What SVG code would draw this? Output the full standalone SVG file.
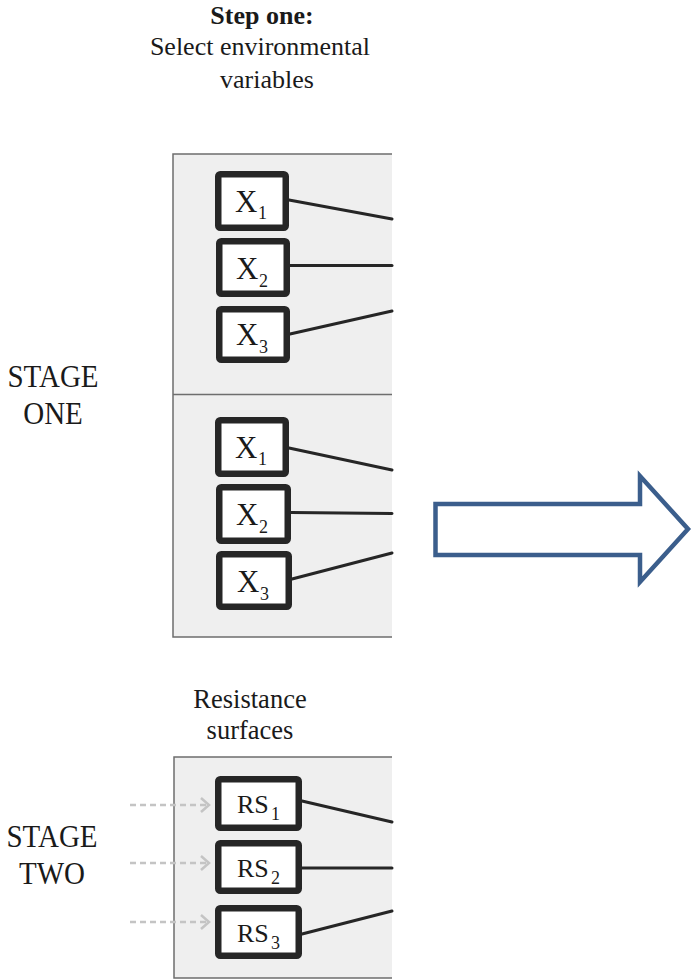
<svg xmlns="http://www.w3.org/2000/svg" width="692" height="980" viewBox="0 0 692 980">
  <style>
    text { font-family: 'Liberation Serif', 'Times New Roman', serif; fill: #1a1a1a; }
    .panel { fill: #efefef; }
    .edge { fill: none; stroke: #6e6e6e; stroke-width: 1.5; }
    .node rect { fill: #ffffff; stroke: #262626; stroke-width: 6.5; }
    .node .v { font-size: 31px; }
    .node .r { font-size: 26px; }
    .node .s { font-size: 18px; }
    .link { fill: none; stroke: #262626; stroke-width: 3; stroke-linecap: round; }
    .feed { fill: none; stroke: #c4c4c4; stroke-width: 2.5; stroke-dasharray: 6 4; }
    .chev { fill: none; stroke: #c4c4c4; stroke-width: 2.5; }
    .big { fill: #ffffff; stroke: #3b5e8c; stroke-width: 4.5; stroke-linejoin: miter; }
    .stage { font-size: 29px; text-anchor: middle; }
  </style>

  <rect width="692" height="980" fill="#ffffff"/>

  <!-- header -->
  <g id="header">
    <text x="262" y="24" font-size="26" font-weight="bold" text-anchor="middle">Step one:</text>
    <text x="260" y="55" font-size="26" text-anchor="middle">Select environmental</text>
    <text x="267" y="88" font-size="26" text-anchor="middle">variables</text>
  </g>

  <!-- stage labels -->
  <g id="stage-one-label">
    <text class="stage" transform="translate(53,387) scale(1,1.08)">STAGE</text>
    <text class="stage" transform="translate(53,424) scale(1,1.08)">ONE</text>
  </g>
  <g id="stage-two-label">
    <text class="stage" transform="translate(52,847) scale(1,1.08)">STAGE</text>
    <text class="stage" transform="translate(52,884) scale(1,1.08)">TWO</text>
  </g>
  <g id="rs-title">
    <text x="250" y="708" font-size="26.5" text-anchor="middle">Resistance</text>
    <text x="250" y="739" font-size="26.5" text-anchor="middle">surfaces</text>
  </g>

  <!-- panels (cut off on the right) -->
  <g id="panel-one">
    <rect class="panel" x="173" y="154" width="219" height="483"/>
    <path class="edge" d="M392 154 H173 V637 H392 M173 394.5 H392"/>
  </g>
  <g id="panel-two">
    <rect class="panel" x="174" y="757" width="218" height="221"/>
    <path class="edge" d="M392 757 H174 V978 H392"/>
  </g>

  <!-- connectors -->
  <g id="connectors">
    <path class="link" d="M289 200 L392 219"/>
    <path class="link" d="M290 265.5 L392 265.5"/>
    <path class="link" d="M290 334 L392 311"/>
    <path class="link" d="M289 448 L392 470"/>
    <path class="link" d="M291 512.5 L392 513.5"/>
    <path class="link" d="M292 579 L392 553"/>
    <path class="link" d="M302 801 L392 822"/>
    <path class="link" d="M302 868 L392 868"/>
    <path class="link" d="M302 934 L392 911"/>
    <path class="feed" d="M130 805 H207"/>
    <path class="chev" d="M201 798 L209 805 L201 812"/>
    <path class="feed" d="M130 863 H207"/>
    <path class="chev" d="M201 856 L209 863 L201 870"/>
    <path class="feed" d="M130 922 H207"/>
    <path class="chev" d="M201 915 L209 922 L201 929"/>
  </g>

  <!-- stage one, upper set -->
  <g id="x1-a" class="node">
    <rect x="218.25" y="174.25" width="67.5" height="53.5" rx="2"/>
    <text class="v" x="235" y="212">X</text>
    <text class="s" x="258" y="219">1</text>
  </g>
  <g id="x2-a" class="node">
    <rect x="219.25" y="241.25" width="67.5" height="52.5" rx="2"/>
    <text class="v" x="236" y="279">X</text>
    <text class="s" x="259" y="287">2</text>
  </g>
  <g id="x3-a" class="node">
    <rect x="219.25" y="309.25" width="67.5" height="50.5" rx="2"/>
    <text class="v" x="236" y="345">X</text>
    <text class="s" x="259" y="353">3</text>
  </g>

  <!-- stage one, lower set -->
  <g id="x1-b" class="node">
    <rect x="218.25" y="420.25" width="67.5" height="53.5" rx="2"/>
    <text class="v" x="235" y="458">X</text>
    <text class="s" x="258" y="465">1</text>
  </g>
  <g id="x2-b" class="node">
    <rect x="219.25" y="487.25" width="68.5" height="53.5" rx="2"/>
    <text class="v" x="236" y="525">X</text>
    <text class="s" x="259" y="533">2</text>
  </g>
  <g id="x3-b" class="node">
    <rect x="219.25" y="554.25" width="69.5" height="52.5" rx="2"/>
    <text class="v" x="237" y="592">X</text>
    <text class="s" x="260" y="600">3</text>
  </g>

  <!-- stage two -->
  <g id="rs1" class="node">
    <rect x="218.25" y="779.25" width="80.5" height="48.5" rx="2"/>
    <text class="r" x="237" y="813">RS</text>
    <text class="s" x="271" y="820">1</text>
  </g>
  <g id="rs2" class="node">
    <rect x="218.25" y="843.25" width="80.5" height="47.5" rx="2"/>
    <text class="r" x="237" y="877">RS</text>
    <text class="s" x="271" y="884">2</text>
  </g>
  <g id="rs3" class="node">
    <rect x="218.25" y="908.25" width="80.5" height="47.5" rx="2"/>
    <text class="r" x="237" y="942">RS</text>
    <text class="s" x="271" y="949">3</text>
  </g>

  <!-- block arrow -->
  <g id="block-arrow">
    <path class="big" d="M435.5 504 H640 V476 L688 529 L640 582 V555 H435.5 Z"/>
  </g>
</svg>
